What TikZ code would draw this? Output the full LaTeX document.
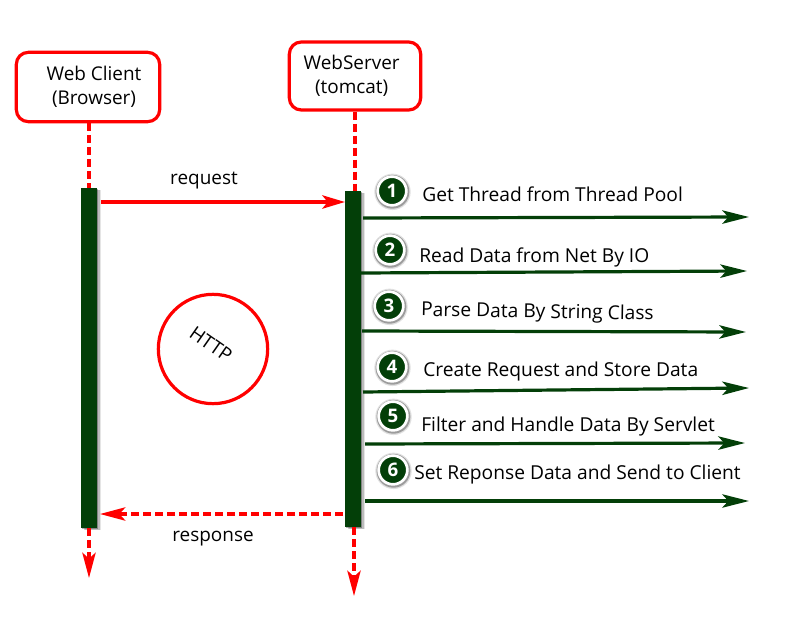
\documentclass[tikz,border=0pt]{standalone}
\usepackage{fontspec}
\setmainfont{Open Sans}
\usetikzlibrary{arrows.meta,shadows}
\definecolor{BarGreen}{HTML}{033F08}
\definecolor{LineRed}{HTML}{FF0000}

\begin{document}
\begin{tikzpicture}[
  x=0.75pt, y=-0.75pt,
  actor/.style={draw=LineRed, line width=2.4pt, rounded corners=9pt, fill=white,
                inner sep=0pt, align=center, font=\fontsize{14.2}{18}\selectfont},
  bar/.style={fill=BarGreen, draw=none, minimum width=12pt, inner sep=0pt,
              drop shadow={shadow xshift=3.2pt, shadow yshift=-1.8pt, fill=black, opacity=0.1},
              drop shadow={shadow xshift=2.2pt, shadow yshift=-1.3pt, fill=black, opacity=0.18},
              drop shadow={shadow xshift=1.1pt, shadow yshift=-0.7pt, fill=black, opacity=0.3}},
  badge/.style={circle, fill=BarGreen, draw=white, line width=2pt, minimum size=21.5pt,
                inner sep=0pt, text=white, font=\fontsize{14}{14}\selectfont\bfseries,
                drop shadow={shadow scale=1.27, shadow xshift=0.3pt, shadow yshift=-0.5pt, fill=black, opacity=0.12},
                drop shadow={shadow scale=1.18, shadow xshift=0.3pt, shadow yshift=-0.5pt, fill=black, opacity=0.3}},
  step label/.style={anchor=west, inner sep=0pt, font=\fontsize{14.4}{17}\selectfont},
  msg label/.style={inner sep=0pt, font=\fontsize{14.2}{17}\selectfont},
  red line/.style={draw=LineRed, line width=2.5pt, dash pattern=on 6pt off 3pt},
  red arr/.style={-{Stealth[length=17pt, width=10pt, inset=4pt]}, draw=LineRed, line width=2.5pt},
  red dash/.style={-{Stealth[length=19pt, width=10pt, inset=4.5pt]}, red line},
  green arr/.style={-{Stealth[length=20pt, width=10pt, inset=4.5pt]}, draw=BarGreen, line width=2.4pt},
]
  \useasboundingbox (0,0) rectangle (788,638);

  % lifeline heads
  \node[actor, minimum width=107.5pt, minimum height=52pt] (client) at (88,87)
    {\hspace*{9pt}Web Client\\\hspace*{9pt}(Browser)};
  \node[actor, minimum width=98.5pt, minimum height=51pt]  (server) at (355,76)
    {WebServer\hspace*{5pt}\\(tomcat)\hspace*{5pt}};

  % activation bars
  \node[bar, minimum height=255pt] (clientbar) at (89,358) {};
  \node[bar, minimum height=252pt] (serverbar) at (353,359) {};

  \coordinate (clientend) at (89,578);
  \coordinate (serverend) at (354,596);
  \draw[red line] (client.south -| clientbar) -- (clientbar.north);
  \draw[red line] (server.south) -- (server.south |- serverbar.north);
  \draw[red dash] (clientbar.south) -- (clientend);
  \draw[red dash] (serverbar.south -| serverend) -- (serverend);

  % request / response
  \coordinate (reqstart) at (101,202);
  \coordinate (reqend) at (345,202);
  \coordinate (respstart) at (343,514);
  \coordinate (respend) at (100,514);
  \draw[red arr] (reqstart) -- (reqend);
  \draw[red dash] (respstart) -- (respend);
  \node[msg label] (request) at (204,181) {request};
  \node[msg label] (response) at (213,539) {response};

  % protocol circle
  \node[circle, draw=LineRed, line width=2.4pt, minimum size=82pt, inner sep=0pt] (http) at (213,349) {};
  \node[msg label, rotate=-35] (httplabel) at (211,344) {HTTP};

  % steps on the server
  \foreach \name/\num/\bx/\by/\tx/\ty/\rot/\sx/\sy/\ex/\ey/\txt in {
    a/1/392/191/422/194/0/363/218/749/217/Get Thread from Thread Pool,
    b/2/390/250/419/257/0/361/273/747/271/Read Data from Net By IO,
    c/3/389/306/421/311/-1/362/331/746/332/Parse Data By String Class,
    d/4/392/367/423/372/0/363/392/749/388/Create Request and Store Data,
    e/5/393/416/421/427/0/365/444/745/443/Filter and Handle Data By Servlet,
    f/6/393/470/414/475/0/365/501/749/501/Set Reponse Data and Send to Client}
  {
    \node[badge] (badge\name) at (\bx,\by) {\num};
    \node[step label, rotate=\rot] (text\name) at (\tx,\ty) {\txt};
    \coordinate (from\name) at (\sx,\sy);
    \coordinate (to\name) at (\ex,\ey);
    \draw[green arr] (from\name) -- (to\name);
  }
\end{tikzpicture}
\end{document}
